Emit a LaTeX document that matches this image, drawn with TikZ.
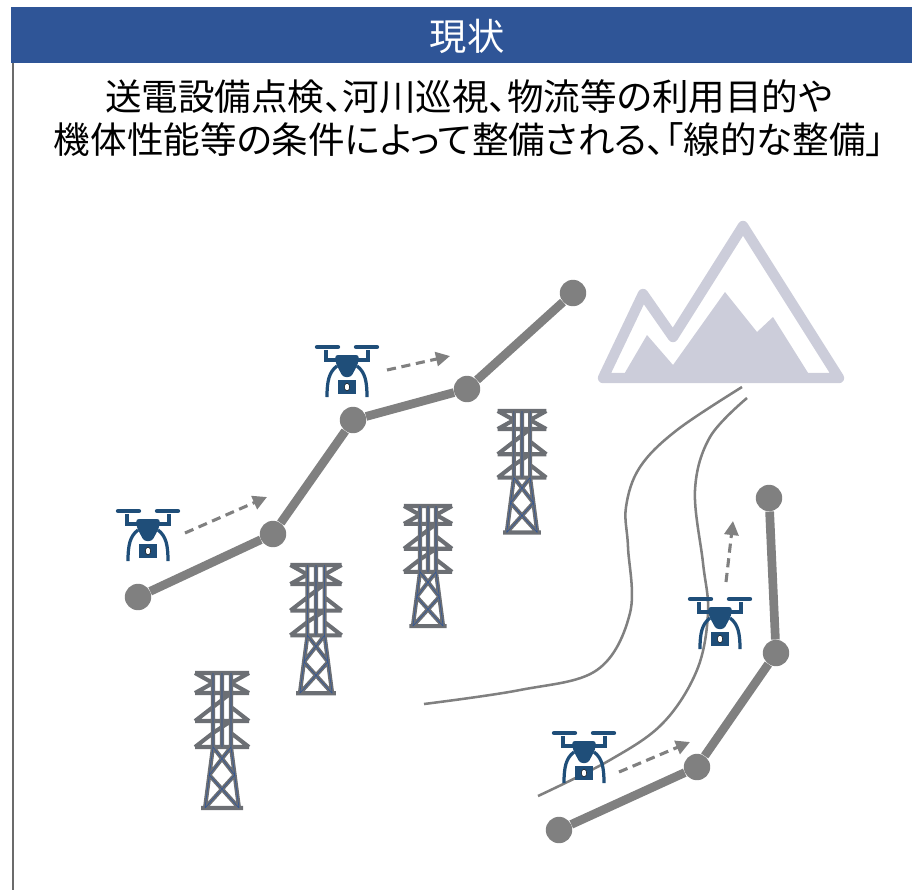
\documentclass[tikz,border=0pt]{standalone}
\usepackage{fontspec}
\newfontfamily\jpfont{Noto Sans CJK JP}[RawFeature=+palt]
\usetikzlibrary{arrows.meta}

\definecolor{hdrblue}{RGB}{47,85,151}
\definecolor{dronebl}{RGB}{31,78,121}
\definecolor{wiregray}{RGB}{128,128,128}
\definecolor{mtgray}{RGB}{204,205,218}
\definecolor{twrgray}{RGB}{108,111,116}
\definecolor{twrblue}{RGB}{47,85,151}

\tikzset{
  drone/.pic={
    \draw[dronebl,line width=3.1pt,line cap=round] (-30,0) -- (-9,0) (9,0) -- (30,0);
    \draw[dronebl,line width=2.8pt] (-21,3) -- (-21,13) -- (21,13) -- (21,3);
    \fill[dronebl,rounded corners=2pt] (-12,8) -- (12,8) -- (11,17) -- (4,30) -- (-4,30) -- (-11,17) -- cycle;
    \draw[dronebl,line width=2.3pt] (-10,19) .. controls (-18,25) and (-20,34) .. (-20,50)
      (10,19) .. controls (18,25) and (20,34) .. (20,50);
    \fill[dronebl] (-9,33) rectangle (9,47);
    \filldraw[fill=white,draw=black,line width=0.3pt] (0,40) ellipse [x radius=2.6,y radius=3.8];
  },
  tower/.pic={
    \draw[twrgray,line width=2.9pt,line join=round]
      (-27,0) -- (27,0) (-27,20) -- (27,20) (-27,48) -- (27,48) (-27,74) -- (27,74)
      (-27,0) -- (-9,10) -- (-27,20) (27,0) -- (9,10) -- (27,20)
      (-9,34) -- (-27,48) (9,34) -- (27,48)
      (-9,60) -- (-27,74) (9,60) -- (27,74)
      (-9,0) -- (-9,74) (9,0) -- (9,74) (0,0) -- (0,74)
      (9,20) -- (-9,34) (9,48) -- (-9,60)
      (-9,74) -- (-17,135) (9,74) -- (17,135)
      (-9,74) -- (12.7,102) (9,74) -- (-12.7,102)
      (-12.7,102) -- (17,135) (12.7,102) -- (-17,135)
      (-21,135) -- (21,135);
    \draw[twrblue,line width=0.4pt]
      (-9,0) -- (-9,74) -- (-17,135) (9,0) -- (9,74) -- (17,135) (0,0) -- (0,74)
      (-9,74) -- (12.7,102) -- (-17,135) (9,74) -- (-12.7,102) -- (17,135);
  }
}

\begin{document}
\begin{tikzpicture}[x=0.025cm,y=-0.025cm,
  pole/.style={circle,fill=wiregray,minimum size=0.66cm,inner sep=0pt},
  wire/.style={wiregray,line width=6.2pt},
  fly/.style={wiregray,line width=2.2pt,dash pattern=on 6.5pt off 4pt,-{Triangle[length=10pt,width=10pt]}},
  river/.style={wiregray,line width=1.8pt}]
\useasboundingbox (0,0) rectangle (912,890);

\fill[hdrblue] (11,7) rectangle (912,63);
\node[text=white,font=\jpfont\fontsize{26.5}{30}\selectfont] (ttl) at (467,36) {現状};
\draw[black!58,line width=2.1pt] (13,63) -- (13,890);
\node[align=center,font=\jpfont\fontsize{26}{30.6}\selectfont] (sub) at (469,118)
  {送電設備点検、河川巡視、物流等の利用目的や\\機体性能等の条件によって整備される、「線的な整備」};

\draw[mtgray,line width=7.4pt,line join=round] (603,378) -- (643,294) -- (673,337) -- (743,226) -- (839,378) -- cycle;
\fill[mtgray] (623,376) -- (647,335) -- (673,365) -- (725,292) -- (757,332) -- (773,317) -- (810,376) -- cycle;

\draw[river] plot[smooth,tension=0.6] coordinates {(424,704) (520,690) (597,670) (630,613) (628,547) (626,507) (640,467) (677,430) (742,387)};
\draw[river] plot[smooth,tension=0.6] coordinates {(747,398) (710,437) (695,490) (703,563) (708,613) (697,670) (663,723) (610,760) (538,796)};

\pic[scale=0.9] at (522,411) {tower};
\pic[scale=0.89] at (428,506) {tower};
\pic[scale=0.95] at (316,565) {tower};
\pic at (222,673) {tower};

\node[pole] (p1) at (138,597) {};
\node[pole] (p2) at (273,534) {};
\node[pole] (p3) at (353,420) {};
\node[pole] (p4) at (467,389) {};
\node[pole] (p5) at (573,293) {};
\draw[wire] (p1) -- (p2) -- (p3) -- (p4) -- (p5);
\node[pole] (q1) at (559,830) {};
\node[pole] (q2) at (697,767) {};
\node[pole] (q3) at (776,653) {};
\node[pole] (q4) at (769,498) {};
\draw[wire] (q1) -- (q2) -- (q3) -- (q4);

\pic at (347,347) {drone};
\pic at (148,511) {drone};
\pic at (720,599) {drone};
\pic at (584,733) {drone};

\coordinate (f1) at (387,370);
\coordinate (g1) at (450,356);
\coordinate (f2) at (185,533);
\coordinate (g2) at (267,497);
\coordinate (f3) at (726,582);
\coordinate (g3) at (733,521);
\coordinate (f4) at (619,772);
\coordinate (g4) at (690,742);
\draw[fly] (f1) -- (g1);
\draw[fly] (f2) -- (g2);
\draw[fly] (f3) -- (g3);
\draw[fly] (f4) -- (g4);
\end{tikzpicture}
\end{document}
